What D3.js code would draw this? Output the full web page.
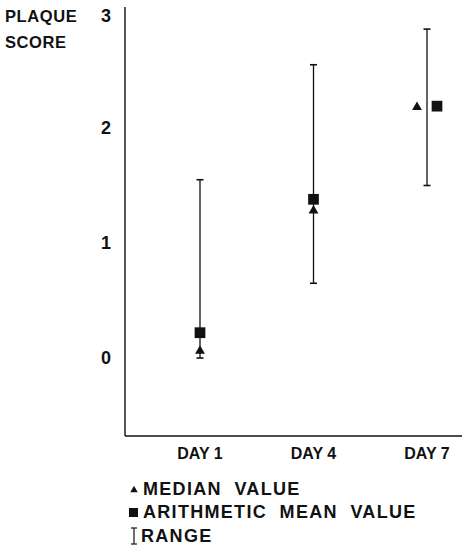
<!DOCTYPE html>
<html><head><meta charset="utf-8">
<script src="https://cdn.jsdelivr.net/npm/d3@7"></script>
<style>body{margin:0;background:#fff}text{font-family:"Liberation Sans",Arial,sans-serif;font-weight:bold;fill:#111}</style>
</head><body>
<svg id="c" width="465" height="553"></svg>
<script>
const days = [1, 4, 7];
const dayLabels = ["DAY 1", "DAY 4", "DAY 7"];
const medians = [0.07, 1.29, 2.19];
const means = [0.22, 1.38, 2.19];
const rangeLow = [0.0, 0.65, 1.50];
const rangeHigh = [1.55, 2.55, 2.86];
const yTicks = [0, 1, 2, 3];
const legendItems = ["MEDIAN  VALUE", "ARITHMETIC  MEAN  VALUE", "RANGE"];

const svg = d3.select("#c");
const y = d3.scaleLinear().domain([0, 3]).range([358, 13]);
const x = d3.scaleLinear().domain([1, 7]).range([200, 427]);
const axisX = 125, axisBottom = 436, axisRight = 462;

svg.append("line").attr("x1", axisX).attr("x2", axisX).attr("y1", 7).attr("y2", axisBottom)
  .attr("stroke", "#111").attr("stroke-width", 1.4);
svg.append("line").attr("x1", axisX).attr("x2", axisRight).attr("y1", axisBottom).attr("y2", axisBottom)
  .attr("stroke", "#111").attr("stroke-width", 1.4);

svg.selectAll(".yt").data(yTicks).enter().append("text")
  .attr("x", 111).attr("y", d => y(d) + (d === 3 ? 3 : 0)).attr("dy", "0.36em").attr("text-anchor", "end")
  .attr("font-size", 18).text(d => d);
svg.append("text").attr("x", 5).attr("y", y(3) + 3).attr("dy", "0.36em").attr("font-size", 16.5)
  .attr("letter-spacing", 0.6).text("PLAQUE");
svg.append("text").attr("x", 5).attr("y", y(3) + 29).attr("dy", "0.36em").attr("font-size", 16.5)
  .attr("letter-spacing", 0.6).text("SCORE");

svg.selectAll(".xl").data(days).enter().append("text")
  .attr("x", d => x(d)).attr("y", 453).attr("dy", "0.36em").attr("text-anchor", "middle")
  .attr("font-size", 16).text((d, i) => dayLabels[i]);

const tri = d3.symbol().type(d3.symbolTriangle).size(42);
const sq = d3.symbol().type(d3.symbolSquare).size(115);

days.forEach((d, i) => {
  const cx = x(d);
  const same = Math.abs(medians[i] - means[i]) < 0.05;
  svg.append("line").attr("x1", cx).attr("x2", cx).attr("y1", y(rangeHigh[i])).attr("y2", y(rangeLow[i]))
    .attr("stroke", "#111").attr("stroke-width", 1.3);
  [rangeHigh[i], rangeLow[i]].forEach(v => {
    svg.append("line").attr("x1", cx - 3.5).attr("x2", cx + 3.5).attr("y1", y(v)).attr("y2", y(v))
      .attr("stroke", "#111").attr("stroke-width", 1.6);
  });
  const mx = same ? cx + 10 : cx, tx = same ? cx - 10 : cx;
  svg.append("path").attr("d", sq()).attr("transform", `translate(${mx},${y(means[i])})`).attr("fill", "#111");
  svg.append("path").attr("d", tri()).attr("transform", `translate(${tx},${y(medians[i]) + 1})`).attr("fill", "#111");
});

const ly = [489, 512, 536];
svg.append("path").attr("d", d3.symbol().type(d3.symbolTriangle).size(24)()).attr("transform", `translate(134,${ly[0] + 1})`).attr("fill", "#111");
svg.append("rect").attr("x", 129).attr("y", ly[1] - 4).attr("width", 9).attr("height", 9).attr("fill", "#111");
const ix = 134;
svg.append("line").attr("x1", ix).attr("x2", ix).attr("y1", ly[2] - 8).attr("y2", ly[2] + 8).attr("stroke", "#111").attr("stroke-width", 1.2);
svg.append("line").attr("x1", ix - 3).attr("x2", ix + 3).attr("y1", ly[2] - 8).attr("y2", ly[2] - 8).attr("stroke", "#111").attr("stroke-width", 1.2);
svg.append("line").attr("x1", ix - 3).attr("x2", ix + 3).attr("y1", ly[2] + 8).attr("y2", ly[2] + 8).attr("stroke", "#111").attr("stroke-width", 1.2);
svg.selectAll(".lg").data(legendItems).enter().append("text")
  .attr("x", (d, i) => i === 2 ? 141 : 143).attr("y", (d, i) => ly[i]).attr("dy", "0.36em")
  .attr("font-size", 18).attr("letter-spacing", 1.3).style("white-space", "pre").text(d => d);
</script>
</body></html>
